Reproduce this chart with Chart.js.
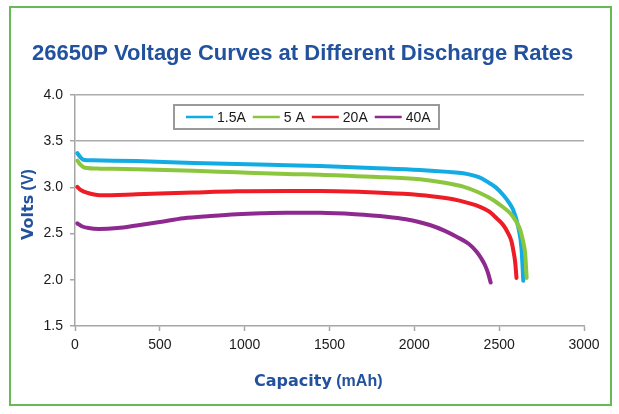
<!DOCTYPE html>
<html>
<head>
<meta charset="utf-8">
<script src="https://cdn.jsdelivr.net/npm/chart.js@4.4.1/dist/chart.umd.min.js"></script>
<style>
  html, body { margin: 0; padding: 0; background: #ffffff; }
  #c { display: block; }
</style>
</head>
<body>
<canvas id="c" width="619" height="414"></canvas>
<script>
// ---- data ----
const chartTitle = "26650P Voltage Curves at Different Discharge Rates";
const seriesLabels = ["1.5A", "5 A", "20A", "40A"];
const seriesColors = ["#13ABE3", "#8CC63F", "#EE1C25", "#8E2A8F"];

const cap15  = [14, 30, 50, 100, 363, 700, 953, 1250, 1444, 1750, 2033, 2200, 2288, 2380, 2426, 2480, 2524, 2560, 2583, 2612, 2632, 2642];
const volt15 = [3.37, 3.33, 3.30, 3.293, 3.285, 3.265, 3.252, 3.24, 3.232, 3.21, 3.188, 3.168, 3.153, 3.11, 3.065, 3.0, 2.918, 2.83, 2.755, 2.575, 2.33, 1.99];

const cap5   = [14, 30, 59, 150, 363, 700, 953, 1250, 1444, 1750, 2033, 2180, 2288, 2380, 2465, 2520, 2565, 2600, 2624, 2645, 2653, 2662];
const volt5  = [3.29, 3.25, 3.213, 3.203, 3.196, 3.18, 3.163, 3.145, 3.138, 3.115, 3.088, 3.05, 3.008, 2.945, 2.864, 2.79, 2.72, 2.63, 2.54, 2.38, 2.29, 2.02];

const cap20  = [14, 35, 69, 147, 363, 700, 953, 1250, 1444, 1700, 1935, 2100, 2229, 2320, 2387, 2440, 2485, 2525, 2553, 2572, 2583, 2595, 2602];
const volt20 = [3.005, 2.97, 2.943, 2.915, 2.925, 2.945, 2.958, 2.962, 2.962, 2.95, 2.93, 2.905, 2.871, 2.83, 2.79, 2.74, 2.666, 2.59, 2.503, 2.42, 2.322, 2.18, 2.02];

const cap40  = [14, 40, 80, 140, 250, 363, 500, 640, 800, 953, 1100, 1250, 1444, 1650, 1836, 1950, 2091, 2180, 2249, 2320, 2367, 2395, 2416, 2435, 2450];
const volt40 = [2.61, 2.58, 2.56, 2.55, 2.56, 2.588, 2.625, 2.666, 2.69, 2.709, 2.72, 2.726, 2.725, 2.71, 2.683, 2.655, 2.593, 2.53, 2.466, 2.39, 2.304, 2.23, 2.16, 2.07, 1.97];

const xTicks = [0, 500, 1000, 1500, 2000, 2500, 3000];
const yTicks = [1.5, 2.0, 2.5, 3.0, 3.5, 4.0];
const yGridValues = [3.5, 4.0];

// ---- build datasets ----
function pts(xs, ys) { return xs.map((x, i) => ({ x: x, y: ys[i] })); }
const seriesData = [pts(cap15, volt15), pts(cap5, volt5), pts(cap20, volt20), pts(cap40, volt40)];
const drawOrder = [4, 3, 2, 1];

const datasets = seriesData.map((d, i) => ({
  label: seriesLabels[i],
  data: d,
  borderColor: seriesColors[i],
  backgroundColor: seriesColors[i],
  borderWidth: 4,
  pointRadius: 0,
  showLine: true,
  fill: false,
  cubicInterpolationMode: 'monotone',
  borderCapStyle: 'round',
  borderJoinStyle: 'round',
  order: drawOrder[i]
}));

const TITLE_BLUE = "#22519E";
const GREEN = "#66BB55";

const decor = {
  id: 'decor',
  beforeDraw(chart) {
    const ctx = chart.ctx;
    ctx.save();
    ctx.fillStyle = '#ffffff';
    ctx.fillRect(0, 0, chart.width, chart.height);
    ctx.restore();
  },
  afterDraw(chart) {
    const ctx = chart.ctx;
    ctx.save();
    // outer green frame
    ctx.strokeStyle = GREEN;
    ctx.lineWidth = 2;
    ctx.strokeRect(10, 7, 601, 398);

    // title
    ctx.fillStyle = TITLE_BLUE;
    ctx.textBaseline = 'alphabetic';
    ctx.textAlign = 'left';
    ctx.font = 'bold 22px "Liberation Sans", Arial, sans-serif';
    ctx.fillText(chartTitle, 32, 59.5);

    // x axis title
    ctx.font = 'bold 16px "DejaVu Sans", sans-serif';
    ctx.fillText("Capacity", 254, 386);
    let w = ctx.measureText("Capacity").width;
    ctx.font = 'bold 16px "Liberation Sans", Arial, sans-serif';
    ctx.fillText(" (mAh)", 254 + w, 386);

    // y axis title (rotated)
    ctx.save();
    ctx.translate(33, 240);
    ctx.rotate(-Math.PI / 2);
    ctx.font = 'bold 16px "DejaVu Sans", sans-serif';
    ctx.fillText("Volts", 0, 0);
    w = ctx.measureText("Volts").width;
    ctx.font = 'bold 16px "Liberation Sans", Arial, sans-serif';
    ctx.fillText(" (V)", w, 0);
    ctx.restore();

    // legend box
    ctx.fillStyle = '#ffffff';
    ctx.fillRect(174, 105, 265, 24);
    ctx.strokeStyle = '#9a9a9a';
    ctx.lineWidth = 2;
    ctx.strokeRect(174, 105, 265, 24);
    ctx.font = '14px "Liberation Sans", Arial, sans-serif';
    ctx.textBaseline = 'middle';
    let x = 186;
    const ly = 117;
    chart.data.datasets.forEach((ds) => {
      ctx.strokeStyle = ds.borderColor;
      ctx.lineWidth = 2.5;
      ctx.beginPath();
      ctx.moveTo(x, ly);
      ctx.lineTo(x + 27, ly);
      ctx.stroke();
      x += 31;
      ctx.fillStyle = '#1a1a1a';
      ctx.fillText(ds.label, x, ly + 1);
      x += ctx.measureText(ds.label).width + 7;
    });
    ctx.restore();
  }
};

new Chart(document.getElementById('c'), {
  type: 'scatter',
  data: { datasets: datasets },
  plugins: [decor],
  options: {
    responsive: false,
    animation: false,
    devicePixelRatio: 1,
    layout: { padding: { left: 15, right: 35, top: 95, bottom: 58 } },
    plugins: { legend: { display: false }, title: { display: false }, tooltip: { enabled: false } },
    scales: {
      x: {
        type: 'linear',
        min: 0, max: 3000,
        afterBuildTicks(scale) { scale.ticks = xTicks.map(v => ({ value: v })); },
        afterFit(scale) { scale.height = 30; },
        ticks: {
          color: '#1a1a1a',
          font: { family: '"Liberation Sans", Arial, sans-serif', size: 14 },
          padding: 6,
          maxRotation: 0,
          autoSkip: false,
          callback: (v) => String(v)
        },
        grid: {
          drawOnChartArea: false,
          drawTicks: true,
          tickLength: 5,
          tickColor: '#a6a6a6',
          tickWidth: 1.5
        },
        border: { color: '#a6a6a6', width: 1.5 }
      },
      y: {
        type: 'linear',
        min: 1.5, max: 4.0,
        afterBuildTicks(scale) { scale.ticks = yTicks.map(v => ({ value: v })); },
        afterFit(scale) { scale.width = 60; },
        ticks: {
          color: '#1a1a1a',
          font: { family: '"Liberation Sans", Arial, sans-serif', size: 14 },
          padding: 7,
          autoSkip: false,
          callback: (v) => Number(v).toFixed(1)
        },
        grid: {
          color: (c) => (c.tick && yGridValues.includes(c.tick.value)) ? '#ababab' : 'rgba(0,0,0,0)',
          lineWidth: 1.5,
          drawTicks: true,
          tickLength: 5,
          tickColor: '#a6a6a6',
          tickWidth: 1.5
        },
        border: { color: '#a6a6a6', width: 1.5 }
      }
    }
  }
});
</script>
</body>
</html>
